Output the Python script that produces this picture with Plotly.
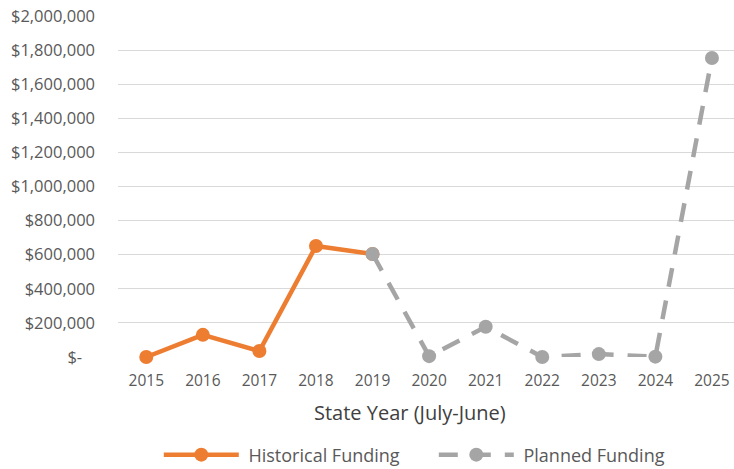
import plotly.graph_objects as go

# -----------------------------
# DATA
# -----------------------------
hist_years = [2015, 2016, 2017, 2018, 2019]
hist_funding = [0, 130000, 35000, 651000, 604000]

plan_years = [2019, 2020, 2021, 2022, 2023, 2024, 2025]
plan_funding = [604000, 5000, 177000, 0, 17000, 2000, 1754000]

year_ticks = list(range(2015, 2026))
y_ticks = [0, 200000, 400000, 600000, 800000, 1000000, 1200000,
           1400000, 1600000, 1800000, 2000000]
y_labels = ["$-\u00a0\u00a0\u00a0"] + [f"${v:,}" for v in y_ticks[1:]]

ORANGE = "#ED7D31"
GREY = "#A5A5A5"
TEXT = "#595959"
FONT = "Open Sans"

# -----------------------------
# CHART
# -----------------------------
fig = go.Figure()

fig.add_trace(go.Scatter(
    x=hist_years, y=hist_funding, name="\u00a0Historical Funding",
    mode="lines+markers", cliponaxis=False,
    line=dict(color=ORANGE, width=4.5),
    marker=dict(color=ORANGE, size=14),
))

fig.add_trace(go.Scatter(
    x=plan_years, y=plan_funding, name="\u00a0Planned Funding",
    mode="lines+markers", cliponaxis=False,
    line=dict(color=GREY, width=4.5, dash="19px,14px"),
    marker=dict(color=GREY, size=14),
))

fig.update_layout(
    width=734, height=469,
    margin=dict(l=118, r=0, t=16, b=112, autoexpand=False),
    plot_bgcolor="white", paper_bgcolor="white",
    font=dict(family=FONT, color=TEXT, size=15.5),
    showlegend=True,
    legend=dict(orientation="h", xref="container", x=0.591, xanchor="center",
                yref="container", y=0.03, yanchor="middle",
                font=dict(size=18, color=TEXT),
                itemwidth=75, traceorder="normal", entrywidth=185),
    annotations=[dict(text="State Year (July-June)", xref="paper", yref="paper",
                      x=0.474, y=-0.163, xanchor="center", yanchor="middle",
                      showarrow=False, font=dict(size=20, color="#404040"))],
)

fig.update_xaxes(
    range=[2014.5, 2025.39], tickvals=year_ticks,
    showgrid=False, zeroline=False, showline=False, ticks="",
    automargin=False, ticklabelstandoff=12,
    tickfont=dict(size=15.5, color=TEXT),
)

fig.update_yaxes(
    range=[0, 2000000], tickvals=y_ticks, ticktext=y_labels,
    showgrid=True, gridcolor="#D9D9D9", gridwidth=1,
    zeroline=False, showline=False, ticks="",
    automargin=False, ticklabelstandoff=22,
    tickfont=dict(size=16.5, color=TEXT),
)

# page body has a default margin, drop it so the figure sits at the corner
fig.write_html("out.html", config={"displayModeBar": False},
               post_script="document.body.style.margin='0';")
